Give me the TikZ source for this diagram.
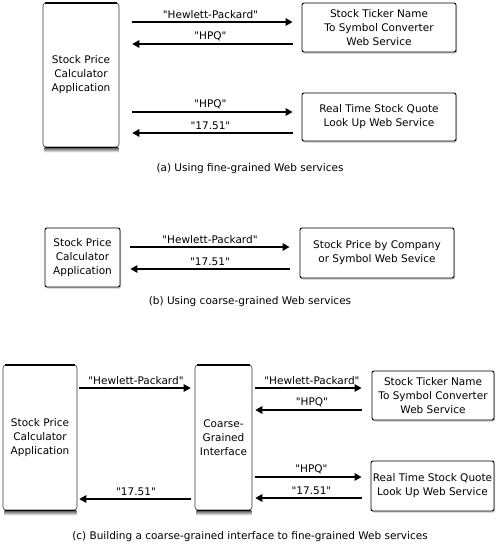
\documentclass[tikz,border=0pt]{standalone}
\usepackage{fontspec}
\setmainfont{DejaVu Sans}[Ligatures=TeXOff]
\usetikzlibrary{arrows.meta,shadows}
\begin{document}
\begin{tikzpicture}[x=1pt,y=-1pt,
  txt/.style={font=\fontsize{10.5}{14}\selectfont, align=center, text=black},
  svc/.style={draw, rounded corners=2pt, line width=0.9pt, fill=white, txt, inner sep=0pt,
    drop shadow={shadow xshift=1pt, shadow yshift=-1.5pt, opacity=0.45}},
  app/.style={draw=black!80, rounded corners=3pt, line width=0.6pt, fill=white, txt, inner sep=0pt},
  msg/.style={line width=1.3pt, -{Triangle[length=7pt,width=7.5pt]}},
  lbl/.style={font=\fontsize{10.5}{12}\selectfont, inner sep=0.5pt},
  captxt/.style={font=\fontsize{10.5}{12}\selectfont}
]
\useasboundingbox (0,0) rectangle (500,546);
% ---------- (a)
\node[app, minimum width=76pt, minimum height=144pt] (appA) at (81,75) {Stock Price\\Calculator\\Application};
\node[svc, minimum width=154pt, minimum height=49pt] (svcA1) at (379,27.5) {Stock Ticker Name\\To Symbol Converter\\Web Service};
\node[svc, minimum width=154pt, minimum height=48pt] (svcA2) at (379,117) {Real Time Stock Quote\\Look Up Web Service};
\draw[msg, shorten <=13pt, shorten >=9pt] (appA.east |- 0,22) -- node[lbl, above=2pt] {"Hewlett-Packard"} (svcA1.west |- 0,22);
\draw[msg, shorten <=9pt, shorten >=13pt] (svcA1.west |- 0,44) -- node[lbl, above=2pt] {"HPQ"} (appA.east |- 0,44);
\draw[msg, shorten <=13pt, shorten >=9pt] (appA.east |- 0,112) -- node[lbl, above=2pt] {"HPQ"} (svcA2.west |- 0,112);
\draw[msg, shorten <=9pt, shorten >=13pt] (svcA2.west |- 0,133) -- node[lbl, above=2pt] {"17.51"} (appA.east |- 0,133);
\node[captxt] (capA) at (250,169) {(a) Using fine-grained Web services};
% ---------- (b)
\node[svc, minimum width=75pt, minimum height=59pt] (appB) at (82.5,257.5) {Stock Price\\Calculator\\Application};
\node[svc, minimum width=154pt, minimum height=50pt] (svcB) at (377,253) {Stock Price by Company\\or Symbol Web Sevice};
\draw[msg, shorten <=10pt, shorten >=10pt] (appB.east |- 0,247) -- node[lbl, above=2pt] {"Hewlett-Packard"} (svcB.west |- 0,247);
\draw[msg, shorten <=10pt, shorten >=10pt] (svcB.west |- 0,269) -- node[lbl, above=2pt] {"17.51"} (appB.east |- 0,269);
\node[captxt] (capB) at (250,302) {(b) Using coarse-grained Web services};
% ---------- (c)
\node[app, minimum width=74pt, minimum height=145pt] (appC) at (40,437.5) {Stock Price\\Calculator\\Application};
\node[app, minimum width=57pt, minimum height=145pt] (mid) at (223.5,437.5) {Coarse-\\Grained\\Interface};
\node[svc, minimum width=122pt, minimum height=49pt] (svcC1) at (433,395.5) {Stock Ticker Name\\To Symbol Converter\\Web Service};
\node[svc, minimum width=123pt, minimum height=50pt] (svcC2) at (432.5,486) {Real Time Stock Quote\\Look Up Web Service};
\draw[msg, shorten <=2pt, shorten >=4pt] (appC.east |- 0,388) -- node[lbl, above=2pt] {"Hewlett-Packard"} (mid.west |- 0,388);
\draw[msg, shorten <=4pt, shorten >=2pt] (mid.west |- 0,499) -- node[lbl, above=2pt] {"17.51"} (appC.east |- 0,499);
\draw[msg, shorten <=3pt, shorten >=10pt] (mid.east |- 0,388) -- node[lbl, above=2pt] {"Hewlett-Packard"} (svcC1.west |- 0,388);
\draw[msg, shorten <=10pt, shorten >=3pt] (svcC1.west |- 0,410) -- node[lbl, above=2pt] {"HPQ"} (mid.east |- 0,410);
\draw[msg, shorten <=3pt, shorten >=9pt] (mid.east |- 0,477) -- node[lbl, above=2pt] {"HPQ"} (svcC2.west |- 0,477);
\draw[msg, shorten <=9pt, shorten >=3pt] (svcC2.west |- 0,498) -- node[lbl, above=2pt] {"17.51"} (mid.east |- 0,498);
\node[captxt] (capC) at (250,537) {(c) Building a coarse-grained interface to fine-grained Web services};
% tall box edges
\foreach \n in {appA,appC,mid}{
  \shade[top color=black!70, bottom color=white] ([xshift=2pt]\n.south west) rectangle ([xshift=-1pt,yshift=-5pt]\n.south east);
  \draw[line width=2pt, line cap=round] ([xshift=3pt]\n.north west) -- ([xshift=-3pt]\n.north east);
  \draw[line width=1.6pt, line cap=round] ([xshift=3pt]\n.south west) -- ([xshift=-3pt]\n.south east);
}
\end{tikzpicture}
\end{document}
